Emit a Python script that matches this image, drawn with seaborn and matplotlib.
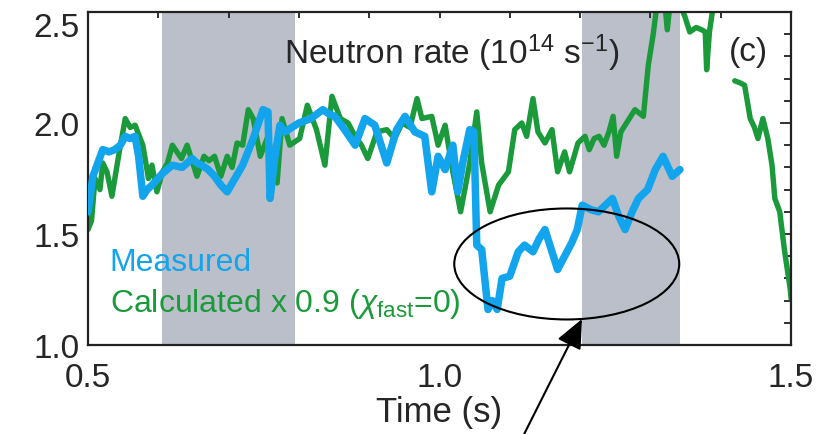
import numpy as np
import pandas as pd
import matplotlib
matplotlib.use("Agg")
import matplotlib.pyplot as plt
from matplotlib.patches import Ellipse
from matplotlib.ticker import MultipleLocator, FixedLocator
import seaborn as sns

# Measured neutron rate (10^14 s^-1) vs time (s)
meas_t = [0.500, 0.507, 0.514, 0.521, 0.530, 0.538, 0.546, 0.553, 0.560, 0.567,
          0.572, 0.578, 0.584, 0.591, 0.605, 0.620, 0.634, 0.648, 0.655, 0.662,
          0.671, 0.680, 0.689, 0.698, 0.709, 0.720, 0.735, 0.749, 0.756, 0.759,
          0.766, 0.773, 0.780, 0.790, 0.800, 0.817, 0.834, 0.843, 0.851, 0.865,
          0.880, 0.894, 0.908, 0.925, 0.939, 0.951, 0.965, 0.979, 0.989, 0.998,
          1.008, 1.019, 1.026, 1.033, 1.043, 1.049, 1.053, 1.060, 1.069, 1.075,
          1.082, 1.089, 1.100, 1.112, 1.121, 1.133, 1.142, 1.150, 1.159, 1.168,
          1.178, 1.188, 1.196, 1.203, 1.215, 1.226, 1.236, 1.246, 1.255, 1.264,
          1.274, 1.283, 1.296, 1.307, 1.318, 1.331, 1.342]
meas_v = [1.60, 1.76, 1.82, 1.88, 1.87, 1.88, 1.90, 1.94, 1.93, 1.94,
          1.85, 1.67, 1.70, 1.72, 1.77, 1.81, 1.80, 1.84, 1.82, 1.81,
          1.79, 1.76, 1.72, 1.69, 1.75, 1.81, 1.93, 2.06, 2.05, 1.66,
          1.85, 1.99, 1.96, 1.98, 2.00, 2.02, 2.06, 2.04, 2.03, 1.97,
          1.90, 2.02, 1.99, 1.82, 1.97, 2.03, 1.96, 1.94, 1.69, 1.85,
          1.79, 1.90, 1.69, 1.82, 1.97, 1.96, 1.45, 1.43, 1.16, 1.20,
          1.16, 1.30, 1.31, 1.42, 1.45, 1.42, 1.48, 1.52, 1.43, 1.34,
          1.40, 1.46, 1.52, 1.63, 1.61, 1.60, 1.63, 1.66, 1.58, 1.52,
          1.60, 1.66, 1.70, 1.79, 1.85, 1.76, 1.79]

# Calculated rate x 0.9 (chi_fast = 0), two continuous segments
calc_t1 = [0.500, 0.505, 0.510, 0.517, 0.521, 0.527, 0.534, 0.545, 0.553, 0.560,
           0.567, 0.578, 0.586, 0.591, 0.598, 0.606, 0.613, 0.620, 0.633, 0.641,
           0.648, 0.655, 0.665, 0.672, 0.680, 0.689, 0.698, 0.705, 0.712, 0.720,
           0.728, 0.735, 0.745, 0.756, 0.769, 0.776, 0.787, 0.801, 0.812, 0.825,
           0.837, 0.847, 0.859, 0.870, 0.880, 0.889, 0.898, 0.911, 0.925, 0.936,
           0.947, 0.958, 0.968, 0.975, 0.989, 0.998, 1.008, 1.019, 1.030, 1.036,
           1.043, 1.053, 1.060, 1.072, 1.084, 1.098, 1.107, 1.117, 1.124, 1.133,
           1.140, 1.150, 1.160, 1.168, 1.178, 1.185, 1.197, 1.207, 1.213, 1.220,
           1.227, 1.234, 1.241, 1.247, 1.252, 1.258, 1.264, 1.278, 1.290, 1.297,
           1.304, 1.310, 1.320, 1.324, 1.329, 1.340, 1.349, 1.356, 1.365, 1.373,
           1.378, 1.380, 1.384, 1.389, 1.400]
calc_v1 = [1.52, 1.56, 1.75, 1.70, 1.82, 1.78, 1.67, 1.88, 2.02, 1.98,
           1.99, 1.90, 1.75, 1.81, 1.69, 1.78, 1.82, 1.90, 1.84, 1.90,
           1.83, 1.76, 1.85, 1.83, 1.85, 1.76, 1.85, 1.80, 1.91, 1.90,
           2.06, 2.02, 1.85, 1.94, 1.73, 2.02, 1.90, 1.93, 2.08, 1.97,
           1.81, 2.12, 2.02, 2.00, 1.94, 1.90, 1.84, 1.96, 1.97, 1.93,
           2.00, 1.98, 2.11, 2.02, 2.03, 1.90, 1.99, 1.78, 1.60, 1.70,
           1.82, 2.05, 1.82, 1.60, 1.72, 1.78, 1.97, 2.00, 1.94, 2.11,
           1.96, 1.91, 1.97, 1.78, 1.87, 1.78, 1.91, 1.94, 1.88, 1.93,
           1.94, 1.90, 1.96, 2.03, 1.85, 1.96, 1.99, 2.06, 2.03, 2.26,
           2.40, 2.55, 2.56, 2.42, 2.57, 2.55, 2.48, 2.41, 2.43, 2.42,
           2.41, 2.24, 2.41, 2.52, 2.58]
calc_t2 = [1.420, 1.428, 1.434, 1.442, 1.448, 1.453, 1.460, 1.467, 1.473, 1.477,
           1.484, 1.491, 1.499, 1.500]
calc_v2 = [2.19, 2.18, 2.17, 2.02, 1.98, 1.93, 2.02, 1.93, 1.81, 1.66,
           1.60, 1.42, 1.25, 1.21]

x_major = [0.5, 1.0, 1.5]
x_labels = ["0.5", "1.0", "1.5"]
y_major = [1.0, 1.5, 2.0, 2.5]
y_labels = ["1.0", "1.5", "2.0", "2.5"]
shaded = [(0.605, 0.795), (1.203, 1.342)]

BLUE = "#12a4ec"
GREEN = "#1a9a3a"
TXT = "#262626"

sns.set_theme(style="white")
plt.rcParams["font.family"] = ["Liberation Sans", "DejaVu Sans"]
plt.rcParams["mathtext.fontset"] = "custom"
plt.rcParams["mathtext.rm"] = "Liberation Sans"
plt.rcParams["mathtext.it"] = "Liberation Sans:italic"

fig = plt.figure(figsize=(8.24, 4.35), dpi=100)
ax = fig.add_axes([88 / 824, 1 - 346 / 435, (791 - 88) / 824, (346 - 13) / 435])

for a, b in shaded:
    ax.axvspan(a, b, color="#bbbfc9", lw=0, zorder=0)

df_m = pd.DataFrame({"t": meas_t, "rate": meas_v})
df_c1 = pd.DataFrame({"t": calc_t1, "rate": calc_v1})
df_c2 = pd.DataFrame({"t": calc_t2, "rate": calc_v2})

line_kw = dict(sort=False, estimator=None, ax=ax, solid_joinstyle="round",
               solid_capstyle="round")
sns.lineplot(data=df_c1, x="t", y="rate", color=GREEN, lw=3.9, zorder=2, **line_kw)
sns.lineplot(data=df_c2, x="t", y="rate", color=GREEN, lw=3.9, zorder=2, **line_kw)
sns.lineplot(data=df_m, x="t", y="rate", color=BLUE, lw=5.4, zorder=3, **line_kw)

ax.set_xlim(0.5, 1.5)
ax.set_ylim(1.0, 2.5)

ax.xaxis.set_major_locator(FixedLocator(x_major))
ax.set_xticklabels(x_labels)
ax.xaxis.set_minor_locator(MultipleLocator(0.1))
ax.yaxis.set_major_locator(FixedLocator(y_major))
ax.set_yticklabels(y_labels)
ax.yaxis.set_minor_locator(MultipleLocator(0.1))

ax.tick_params(axis="both", which="both", direction="in", top=True, right=True,
               colors="#222222", labelcolor=TXT, width=1.3)
ax.tick_params(axis="x", which="major", length=4, labelsize=24, pad=12)
ax.tick_params(axis="x", which="minor", length=4)
ax.tick_params(axis="y", which="major", length=8, labelsize=24, pad=6)
ax.tick_params(axis="y", which="minor", length=5)
ax.get_yticklabels()[-1].set_va("top")

for s in ax.spines.values():
    s.set_linewidth(1.6)
    s.set_color("#222222")

ax.set_xlabel("Time (s)", fontsize=25, color=TXT, labelpad=2)
ax.set_ylabel("")

ax.text(0.517, 0.88, r"Neutron rate (10$^{14}$ s$^{-1}$)", transform=ax.transAxes,
        ha="center", va="center", fontsize=24, color=TXT)
ax.text(0.94, 0.88, "(c)", transform=ax.transAxes, ha="center", va="center",
        fontsize=24, color=TXT)
ax.text(0.031, 0.25, "Measured", transform=ax.transAxes, ha="left", va="center",
        fontsize=23, color=BLUE)
ax.text(0.031, 0.125, r"Calculated x 0.9 ($\chi_{\rm fast}$=0)", transform=ax.transAxes,
        ha="left", va="center", fontsize=23, color=GREEN)

ell = Ellipse((1.181, 1.365), 0.32, 0.50, fill=False, ec="black", lw=1.5,
              zorder=4, clip_on=False)
ax.add_patch(ell)
ax.annotate("", xy=(1.2027, 1.117), xycoords="data",
            xytext=(522 / 824, -0.01), textcoords="figure fraction",
            arrowprops=dict(arrowstyle="-|>,head_length=0.9,head_width=0.4",
                            color="black", lw=1.5, mutation_scale=20,
                            shrinkA=0, shrinkB=0),
            annotation_clip=False, zorder=5)

fig.savefig("out.png", dpi=100)
